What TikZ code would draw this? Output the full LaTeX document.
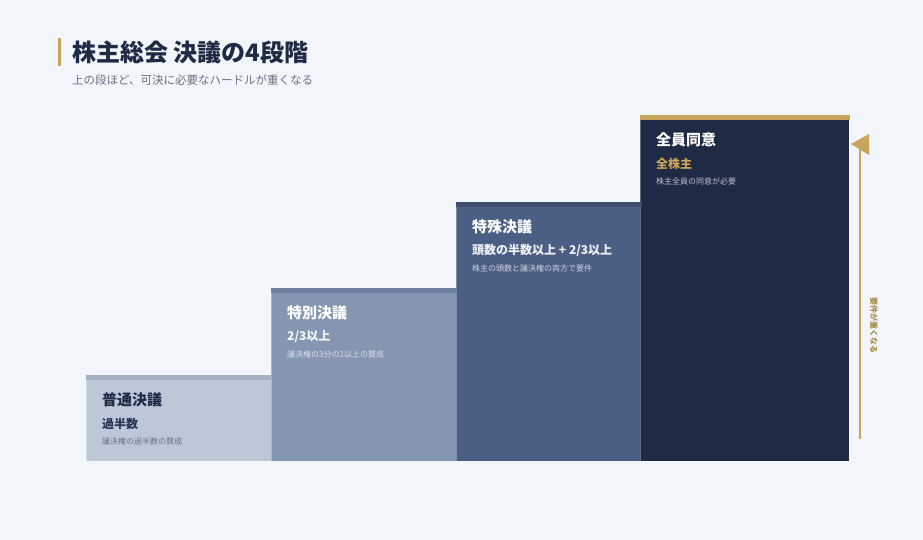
\documentclass[tikz,border=0pt]{standalone}
\usepackage{fontspec}
\setmainfont{Noto Sans CJK JP}
\usetikzlibrary{positioning}

\definecolor{bgc}{HTML}{F2F5FA}
\definecolor{navy}{HTML}{1F2A45}
\definecolor{gold}{HTML}{C9A55B}
\definecolor{greytxt}{HTML}{6B7280}
\definecolor{fillA}{HTML}{BCC8D8}
\definecolor{topA}{HTML}{A6B2C4}
\definecolor{fillB}{HTML}{8496B2}
\definecolor{topB}{HTML}{6E80A0}
\definecolor{fillC}{HTML}{4B5F85}
\definecolor{topC}{HTML}{3E4F72}
\definecolor{fillD}{HTML}{1F2A45}

\begin{document}
\begin{tikzpicture}[x=1pt,y=-1pt,stepbox/.style={draw=white,draw opacity=0.3,line width=0.8pt,anchor=north west,inner sep=0pt,minimum width=185pt}, ttl/.style={anchor=west,inner sep=0pt,font=\fontsize{15}{18}\selectfont\bfseries}, sub/.style={anchor=west,inner sep=0pt,font=\fontsize{12}{14}\selectfont\bfseries}, desc/.style={anchor=west,inner sep=0pt,font=\fontsize{8}{10}\selectfont}]

	\useasboundingbox[fill=bgc] (0,0) rectangle (923,540);

	% heading
	\fill[gold] (58,38) rectangle (61,66);
	\node[anchor=west,inner sep=0pt,text=navy,font=\fontsize{24}{28}\selectfont\bfseries] (title) at (72,52) {株主総会 決議の4段階};
	\node[anchor=west,inner sep=0pt,text=greytxt,font=\fontsize{11.5}{14}\selectfont] (subtitle) at (72,80) {上の段ほど、可決に必要なハードルが重くなる};

	% steps
	\node[stepbox,fill=fillA,minimum height=86pt] (s1) at (86,375) {};
	\node[stepbox,fill=fillB,minimum height=173pt] (s2) at (271,288) {};
	\node[stepbox,fill=fillC,minimum height=259pt] (s3) at (456,202) {};
	\node[stepbox,fill=fillD,minimum height=346pt,minimum width=209pt] (s4) at (640,115) {};

	\fill[topA] (s1.north west) rectangle ([yshift=-5pt]s1.north east);
	\fill[topB] (s2.north west) rectangle ([yshift=-5pt]s2.north east);
	\fill[topC] (s3.north west) rectangle ([yshift=-5pt]s3.north east);
	\fill[gold] (s4.north west) rectangle ([yshift=-5pt]s4.north east);

	\node[ttl,text=navy] (t1) at (102,400) {普通決議};
	\node[sub,text=navy!80!fillC] (u1) at (102,423.5) {過半数};
	\node[desc,text=greytxt] (d1) at (102,441) {議決権の過半数の賛成};

	\node[ttl,text=white] (t2) at (287,313) {特別決議};
	\node[sub,text=white!92!fillB] (u2) at (287,336.5) {2/3以上};
	\node[desc,text=white!70!fillB] (d2) at (287,354) {議決権の3分の2以上の賛成};

	\node[ttl,text=white] (t3) at (472,227) {特殊決議};
	\node[sub,text=white!92!fillC] (u3) at (472,250.5) {頭数の半数以上 + 2/3以上};
	\node[desc,text=white!72!fillC] (d3) at (472,268) {株主の頭数と議決権の両方で要件};

	\node[ttl,text=white] (t4) at (656,140) {全員同意};
	\node[sub,text=gold] (u4) at (656,163.5) {全株主};
	\node[desc,text=white!72!fillD] (d4) at (656,181) {株主全員の同意が必要};

	% arrow
	\coordinate (abot) at (860,439);
	\coordinate (atop) at (860,147);
	\draw[gold,line width=2pt] (abot) -- (atop);
	\fill[gold] (851,144) -- (869,134) -- (869,155) -- cycle;
	\node[rotate=-90,inner sep=0pt,text=gold!85!black,font=\fontsize{8}{10}\selectfont\bfseries] (lbl) at (874,325) {要件が重くなる};

\end{tikzpicture}
\end{document}
